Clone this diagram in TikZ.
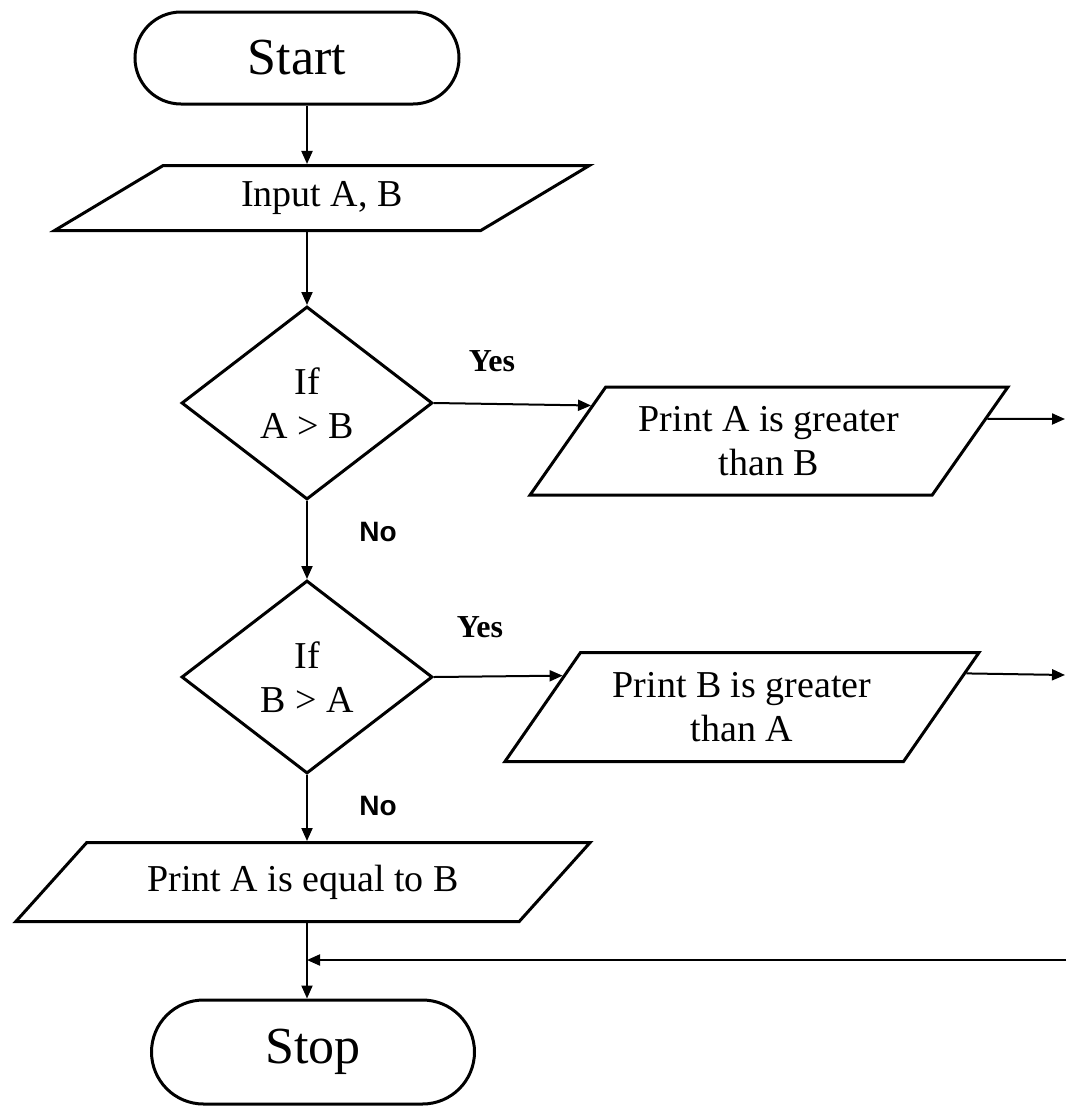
\documentclass[tikz,border=0pt]{standalone}
\usepackage{fontspec}
\setmainfont{Liberation Serif}
\newfontfamily\labelsans{Liberation Sans}
\usetikzlibrary{shapes.geometric,shapes.misc,arrows.meta,calc}

\begin{document}
\begin{tikzpicture}[x=1pt,y=-1pt,
  >={Triangle[length=13pt,width=11pt]},
  box/.style={draw=black,line width=3pt,fill=white,align=center,inner sep=0pt,
    font=\fontsize{38}{44}\selectfont},
  term/.style={box,rounded rectangle,font=\fontsize{52}{60}\selectfont},
  io/.style 2 args={box,trapezium,trapezium stretches=true,
    trapezium left angle=#1,trapezium right angle=#2},
  test/.style={box,diamond,minimum width=251pt,minimum height=193pt},
  yes/.style={font=\fontsize{32}{34}\selectfont\bfseries},
  no/.style={font=\labelsans\fontsize{28}{30}\selectfont\bfseries},
  flow/.style={->,draw=black,line width=2pt}]

\useasboundingbox[fill=white] (0,0) rectangle (1066,1106);

\begin{scope}
    \node[term,minimum width=324pt,minimum height=92pt] (start) at (297,58) {Start};
    \node[io={31}{149},minimum width=537pt,minimum height=65pt] (input) at (322,198) {Input A, B};
    \node[test] (d1) at (307,403) {If\\A > B};
    \node[io={49}{131},minimum width=480pt,minimum height=108pt] (pa) at (769,441) {Print A is greater\\than B};
    \node[test] (d2) at (307,677) {If\\B > A};
    \node[io={49}{131},minimum width=476pt,minimum height=109pt] (pb) at (742,707) {Print B is greater\\than A};
    \node[io={34}{146},minimum width=576pt,minimum height=79pt] (pe) at (303,882) {Print A is equal to B};
    \node[term,minimum width=323pt,minimum height=104pt] (stop) at (313,1052) {Stop};
\end{scope}

\node[yes] (yes1) at (492,361) {Yes};
\node[yes] (yes2) at (480,627) {Yes};
\node[no] (no1) at (378,532) {No};
\node[no] (no2) at (378,806) {No};

\coordinate (paout) at (1065,419);
\coordinate (pbout) at (1065,675);
\coordinate (back) at (1066,960);

\begin{scope}[every path/.style={flow}]
    \draw (start.south -| d1.north) -- (input.north -| d1.north);
    \draw (input.south -| d1.north) -- (d1.north);
    \draw (d1.east) -- ($(pa.top left corner)!0.18!(pa.bottom left corner)$);
    \draw ($(pa.top right corner)!0.3!(pa.bottom right corner)$) -- (paout);
    \draw (d1.south) -- (d2.north);
    \draw (d2.east) -- ($(pb.top left corner)!0.22!(pb.bottom left corner)$);
    \draw ($(pb.top right corner)!0.2!(pb.bottom right corner)$) -- (pbout);
    \draw (d2.south) -- (pe.north -| d2.south);
    \draw (pe.south -| d2.south) -- (stop.north -| d2.south);
    \draw (back) -- (back -| d2.south);
\end{scope}

\end{tikzpicture}
\end{document}
